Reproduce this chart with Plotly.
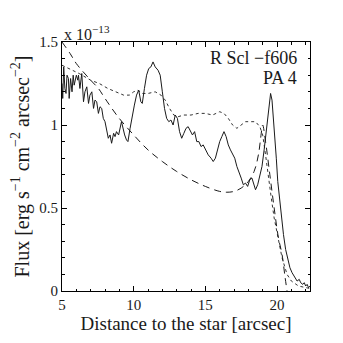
import plotly.graph_objects as go

# radial profile along PA 4 (flux in units of 1e-13)
obs_x = [5.0, 5.05, 5.12, 5.2, 5.28, 5.35, 5.45, 5.5, 5.6, 5.7, 5.78, 5.85, 6.0, 6.1, 6.15,
         6.25, 6.38, 6.5, 6.6, 6.73, 6.85, 6.95, 7.08, 7.2, 7.3, 7.42, 7.54, 7.65, 7.77,
         7.88, 8.0, 8.1, 8.23, 8.35, 8.46, 8.6, 8.7, 8.8, 8.95, 9.15, 9.25, 9.37, 9.5, 9.6,
         9.75, 9.9, 10.05, 10.2, 10.35, 10.5, 10.6, 10.75, 10.9, 11.05, 11.2, 11.35, 11.5,
         11.7, 11.85, 12.0, 12.15, 12.3, 12.45, 12.6, 12.75, 12.9, 13.05, 13.2, 13.35, 13.5,
         13.65, 13.8, 13.95, 14.1, 14.25, 14.4, 14.55, 14.7, 14.85, 15.0, 15.2, 15.4, 15.55,
         15.7, 15.85, 16.0, 16.15, 16.3, 16.45, 16.6, 16.75, 16.9, 17.05, 17.2, 17.35, 17.5,
         17.65, 17.8, 17.95, 18.1, 18.25, 18.4, 18.5, 18.65, 18.8, 18.95, 19.1, 19.25,
         19.35, 19.45, 19.55, 19.65, 19.75, 19.85, 19.95, 20.05, 20.2, 20.3, 20.45, 20.6,
         20.75, 20.9, 21.05, 21.2, 21.3, 21.4, 21.55, 21.65, 21.8, 21.9, 22.0, 22.1, 22.2,
         22.3]
obs_y = [1.25, 1.16, 1.35, 1.22, 1.19, 1.30, 1.28, 1.16, 1.28, 1.20, 1.30, 1.24, 1.30, 1.27,
         1.30, 1.22, 1.31, 1.14, 1.20, 1.23, 1.13, 1.18, 1.20, 1.10, 1.15, 1.14, 1.07, 1.11,
         1.10, 1.04, 1.02, 0.98, 0.92, 0.94, 0.89, 0.95, 0.93, 0.96, 0.94, 1.02, 0.98, 0.94,
         0.91, 0.90, 0.98, 1.06, 1.12, 1.18, 1.21, 1.14, 1.13, 1.22, 1.30, 1.34, 1.35, 1.38,
         1.35, 1.33, 1.30, 1.20, 1.10, 1.04, 1.02, 1.03, 1.00, 1.06, 1.04, 0.96, 0.92, 0.95,
         0.98, 0.99, 0.96, 0.94, 0.96, 0.90, 0.90, 0.87, 0.88, 0.85, 0.82, 0.80, 0.78, 0.80,
         0.86, 0.90, 0.93, 0.96, 0.93, 0.88, 0.85, 0.82, 0.80, 0.75, 0.72, 0.68, 0.64, 0.65,
         0.63, 0.67, 0.68, 0.63, 0.61, 0.64, 0.69, 0.75, 0.85, 0.97, 1.07, 1.15, 1.19, 1.15,
         1.05, 0.92, 0.80, 0.66, 0.54, 0.44, 0.34, 0.25, 0.19, 0.14, 0.11, 0.09, 0.08, 0.06,
         0.07, 0.05, 0.04, 0.05, 0.03, 0.04, 0.02, 0.03, 0.02]

ref_x = [5.0, 5.5, 6.2, 7.0, 7.6, 8.2, 8.8, 9.3, 9.7, 10.0, 10.3, 10.6, 11.0, 11.5, 11.9,
         12.2, 12.5, 12.8, 13.1, 13.5, 14.0, 14.5, 15.0, 15.5, 16.0, 16.3, 16.6, 16.9,
         17.2, 17.5, 17.8, 18.2, 18.5, 18.8, 19.0, 19.2, 19.4, 19.6, 19.8, 20.1, 20.35,
         20.7, 21.0, 21.5, 22.0, 22.3]
ref_y = [1.36, 1.34, 1.31, 1.27, 1.25, 1.22, 1.20, 1.18, 1.18, 1.20, 1.21, 1.19, 1.19,
         1.20, 1.18, 1.15, 1.10, 1.06, 1.05, 1.06, 1.06, 1.07, 1.07, 1.06, 1.08, 1.07,
         1.04, 1.00, 0.98, 1.00, 1.02, 1.02, 1.02, 0.99, 0.94, 0.82, 0.68, 0.56, 0.44,
         0.30, 0.20, 0.10, 0.06, 0.03, 0.02, 0.015]

model_x = [5.0, 5.57, 6.0, 7.0, 7.54, 8.0, 8.9, 10.0, 11.0, 12.0, 13.0, 14.0, 15.0, 16.0,
           16.5, 17.0, 17.5, 18.0, 18.4, 18.7, 18.9, 19.0, 19.2, 19.5, 19.8, 20.1, 20.35,
           20.55, 20.7]
model_y = [1.50, 1.43, 1.37, 1.27, 1.22, 1.16, 1.05, 0.94, 0.85, 0.78, 0.72, 0.67, 0.63,
           0.60, 0.595, 0.60, 0.62, 0.66, 0.72, 0.82, 0.95, 1.00, 0.90, 0.70, 0.50, 0.32,
           0.22, 0.09, 0.0]

FONT = "Liberation Serif, Times New Roman, serif"
INK = "#1a1a1a"

fig = go.Figure()
fig.add_trace(go.Scatter(x=ref_x, y=ref_y, mode="lines",
                         line=dict(color="#333333", width=1, dash="dot")))
fig.add_trace(go.Scatter(x=model_x, y=model_y, mode="lines", line_shape="spline",
                         line=dict(color=INK, width=1, dash="7px,5px")))
fig.add_trace(go.Scatter(x=obs_x, y=obs_y, mode="lines",
                         line=dict(color=INK, width=1)))

axis_common = dict(
    showline=True, linecolor="black", linewidth=1, mirror="ticks",
    ticks="inside", ticklen=5, tickcolor="black", showgrid=False, zeroline=False,
    tickfont=dict(family=FONT, size=15, color=INK),
)

fig.update_xaxes(
    range=[5, 22.3], tickvals=[5, 10, 15, 20],
    minor=dict(ticks="inside", dtick=1, tick0=5, ticklen=2.5, tickcolor="black"),
    title=dict(text="Distance to the star [arcsec]", standoff=2,
               font=dict(family=FONT, size=19, color=INK)),
    **axis_common,
)
fig.update_yaxes(
    range=[0, 1.5], tickvals=[0, 0.5, 1, 1.5], ticktext=["0", "0.5", "1", "1.5"],
    minor=dict(ticks="inside", dtick=0.1, tick0=0, ticklen=2.5, tickcolor="black"),
    title=dict(text="Flux [erg s<sup>−1</sup> cm<sup>−2</sup> arcsec<sup>−2</sup>]",
               standoff=4, font=dict(family=FONT, size=20, color=INK)),
    **axis_common,
)

fig.add_annotation(xref="paper", yref="paper", x=0.0, y=1.0, xanchor="left",
                   yanchor="bottom", showarrow=False, yshift=-3,
                   text="x 10<sup>−13</sup>", font=dict(family=FONT, size=16, color=INK))
for txt, shift in (("R Scl −f606", -4), ("PA 4", -24)):
    fig.add_annotation(xref="paper", yref="paper", x=0.955, y=1.0, xanchor="right",
                       yanchor="top", showarrow=False, yshift=shift,
                       text=txt, font=dict(family=FONT, size=18, color=INK))

fig.update_layout(
    width=343, height=343, showlegend=False,
    margin=dict(l=54, r=41, t=34, b=60),
    paper_bgcolor="white", plot_bgcolor="white",
)

fig.write_html("out.html")
